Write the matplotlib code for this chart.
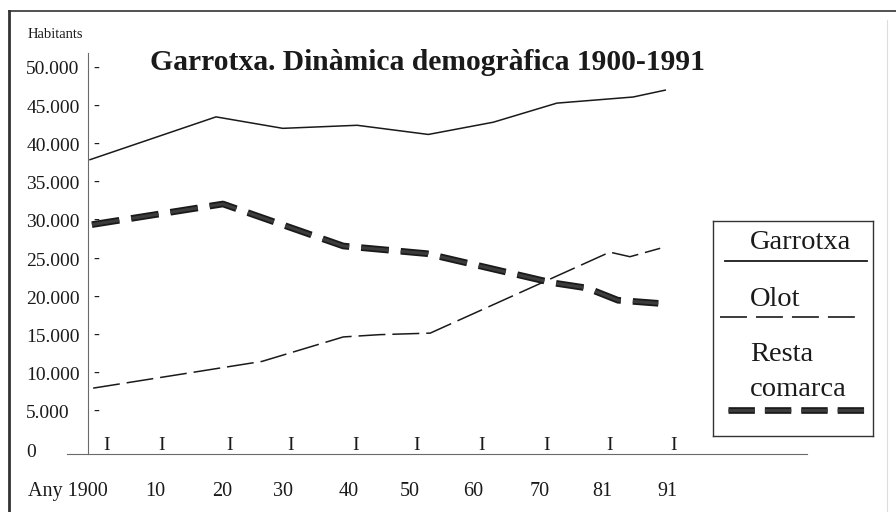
import matplotlib
matplotlib.use("Agg")
import matplotlib.pyplot as plt
import matplotlib.patheffects as pe
from matplotlib.lines import Line2D

plt.rcParams['font.family'] = ['Liberation Serif', 'DejaVu Serif']
plt.rcParams['lines.scale_dashes'] = False

# ─── Dades (llegides del gràfic) ──────────────────────────
garrotxa_anys = [1900, 1920, 1930.6, 1942.4, 1953.7, 1964, 1974.1, 1986.2, 1991.3]
garrotxa_hab  = [38000, 43600, 42100, 42500, 41300, 42900, 45400, 46200, 47100]

olot_anys = [1900.5, 1927.3, 1940.2, 1946, 1954, 1982.5, 1985.7, 1990.5]
olot_hab  = [8100, 11600, 14800, 15100, 15300, 25900, 25300, 26400]

resta_anys = [1900.3, 1921.1, 1940.2, 1953.5, 1973.3, 1978.9, 1983.8, 1990.2]
resta_hab  = [29500, 32200, 26700, 25700, 21900, 21200, 19600, 19200]

y_ticks  = [0, 5000, 10000, 15000, 20000, 25000, 30000, 35000, 40000, 45000, 50000]
x_marques = [1902.7, 1911.3, 1922.1, 1931.9, 1942.2, 1951.9, 1962.1, 1972.4, 1982.5, 1992.7]
x_etiq_pos = [1896.5, 1910.3, 1921.0, 1930.6, 1941.0, 1950.8, 1960.8, 1971.3, 1981.3, 1991.6]
x_etiq     = ['Any 1900', '10', '20', '30', '40', '50', '60', '70', '81', '91']

tinta = '#1a1a1a'
eix   = '#6a6a6a'

fig = plt.figure(figsize=(8.96, 5.12), dpi=100)
ax = fig.add_axes([67/896, 1 - 454/512, 740/896, 401/512])
ax.set_xlim(1896.35, 2013.8)
ax.set_ylim(-520, 51960)

for s in ['top', 'right']:
    ax.spines[s].set_visible(False)
ax.spines['left'].set_position(('data', 1899.7))
ax.spines['left'].set_color(eix)
ax.spines['bottom'].set_color(eix)
ax.spines['left'].set_linewidth(0.8)
ax.spines['bottom'].set_linewidth(0.8)

# eix Y
ax.set_yticks(y_ticks)
ax.set_yticklabels(['0' if v == 0 else f'{v:,}'.replace(',', '.') for v in y_ticks])
ax.tick_params(axis='y', length=0, pad=44.5, labelsize=14, labelcolor=tinta)
for t in ax.get_yticklabels():
    t.set_horizontalalignment('left')
for v in y_ticks[1:]:
    ax.text(0.036, v, '-', transform=ax.get_yaxis_transform(), ha='left',
            va='center', fontsize=13, color=tinta)

# eix X
ax.set_xticks(x_etiq_pos)
ax.set_xticklabels(x_etiq)
ax.tick_params(axis='x', length=0, pad=20, labelsize=14.5, labelcolor=tinta)
for xm in x_marques:
    ax.text(xm, 0.0, 'I', transform=ax.get_xaxis_transform(), ha='center',
            va='bottom', fontsize=14, color=tinta)

# sèries
ax.plot(garrotxa_anys, garrotxa_hab, color=tinta, lw=1.1, solid_joinstyle='miter')
ax.plot(olot_anys, olot_hab, color=tinta, lw=1.1, dashes=(19.4, 5.0))
ax.plot(resta_anys, resta_hab, color='#3a3a3a', lw=4.8, dashes=(20, 8.6),
        dash_capstyle='butt',
        path_effects=[pe.Stroke(linewidth=4.8, foreground=tinta),
                      pe.Stroke(linewidth=2.2, foreground='#3c3c3c')])

# títols
fig.text(150/896, 1 - 70/512, 'Garrotxa. Dinàmica demogràfica 1900-1991',
         fontsize=21.3, fontweight='bold', color=tinta, va='baseline')
fig.text(28/896, 1 - 37.5/512, 'Habitants', fontsize=10.5, color=tinta, va='baseline')

# llegenda
lg = fig.add_axes([713/896, 1 - 436/512, 160/896, 215/512])
lg.set_xticks([])
lg.set_yticks([])
lg.set_xlim(0, 1)
lg.set_ylim(0, 1)
for s in lg.spines.values():
    s.set_color('#333333')
    s.set_linewidth(1.0)
lg.text(0.231, 0.902, 'Garrotxa', fontsize=20.5, color=tinta, va='center')
lg.plot([0.075, 0.9625], [0.814, 0.814], color=tinta, lw=1.3)
lg.text(0.231, 0.633, 'Olot', fontsize=20.5, color=tinta, va='center')
lg.plot([0.044, 0.919], [0.553, 0.553], color=tinta, lw=1.2, dashes=(19.4, 6.5))
lg.text(0.231, 0.377, 'Resta', fontsize=20.5, color=tinta, va='center')
lg.text(0.231, 0.214, 'comarca', fontsize=20.5, color=tinta, va='center')
lg.plot([0.094, 0.956], [0.121, 0.121], color='#3a3a3a', lw=4.8, dashes=(19, 7.2),
        path_effects=[pe.Stroke(linewidth=4.8, foreground=tinta),
                      pe.Stroke(linewidth=2.2, foreground='#3c3c3c')])

# marc exterior
fig.add_artist(Line2D([9/896, 1], [1 - 11/512, 1 - 11/512], color='#333333', lw=1.2))
fig.add_artist(Line2D([9/896, 9/896], [0, 1 - 11/512], color='#333333', lw=2.0))
fig.add_artist(Line2D([887/896, 887/896], [0, 1 - 20/512], color='#dddddd', lw=0.8))

fig.savefig('out.png', dpi=100)
